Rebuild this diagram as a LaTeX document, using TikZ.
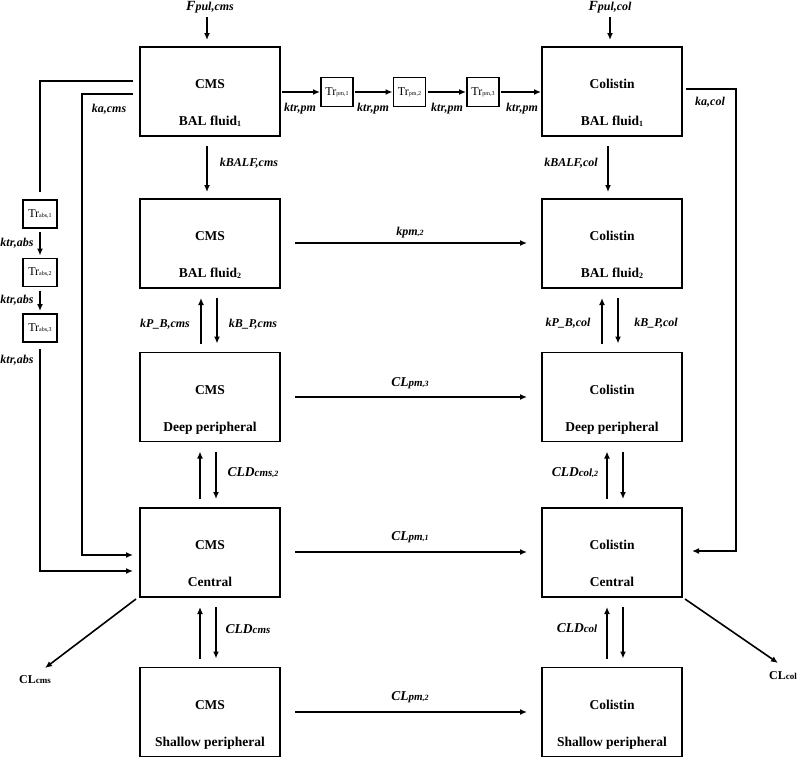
\documentclass[tikz,border=0pt]{standalone}
\usepackage{fontspec}
\setmainfont{Liberation Serif}
\usetikzlibrary{arrows.meta}
\newcommand{\fsz}[1]{\fontsize{#1}{#1}\selectfont}
\newcommand{\sm}[1]{{\fsz{8}#1}}
\newcommand{\bsub}[1]{\raisebox{-1pt}{\fsz{8}#1}}
\newcommand{\trsub}[1]{{\fsz{6}#1}}
\newcommand{\cbox}[5]{%
 \node[box] (#1) at (#2,#3) {};
 \node[boxtxt] (#1t) at ([yshift=3pt]#1.center) {#4};
 \node[boxtxt] (#1b) at ([yshift=-34pt]#1.center) {#5};}
\newcommand{\vpair}[4]{%
 \draw[arr, shorten <=9pt, shorten >=10pt] ([xshift=#3]#2.north) -- ([xshift=#3]#1.south);
 \draw[arr, shorten <=10pt, shorten >=9pt] ([xshift=#4]#1.south) -- ([xshift=#4]#2.north);}
\begin{document}
\begin{tikzpicture}[x=1pt,y=-1pt,
  box/.style={draw, line width=1.6pt, minimum width=140pt, minimum height=89pt, inner sep=0pt, outer sep=0pt},
  boxtxt/.style={anchor=base, inner sep=0pt, font=\bfseries\fsz{13.5}},
  trbox/.style={draw, line width=1.6pt, minimum width=32pt, minimum height=29pt, inner sep=0pt, outer sep=0pt, font=\fsz{12}},
  tabox/.style={trbox, minimum width=34pt, minimum height=28pt},
  arr/.style={line width=1.6pt, -{Latex[length=7pt,width=6pt]}},
  ln/.style={line width=1.6pt},
  lab/.style={inner sep=0pt, font=\bfseries\itshape\fsz{12}},
  cl/.style={inner sep=0pt, font=\bfseries\fsz{12}}]
\useasboundingbox (0,0) rectangle (800,758);

% compartments
\cbox{cms1}{210}{91.5}{CMS}{BAL fluid\bsub{1}}
\cbox{col1}{612}{91.5}{Colistin}{BAL fluid\bsub{1}}
\cbox{cms2}{210}{243.5}{CMS}{BAL fluid\bsub{2}}
\cbox{col2}{612}{243.5}{Colistin}{BAL fluid\bsub{2}}
\cbox{cms3}{210}{397}{CMS}{Deep peripheral}
\cbox{col3}{612}{397}{Colistin}{Deep peripheral}
\cbox{cms4}{210}{552.5}{CMS}{Central}
\cbox{col4}{612}{552.5}{Colistin}{Central}
\cbox{cms5}{210}{712}{CMS}{Shallow peripheral}
\cbox{col5}{612}{712}{Colistin}{Shallow peripheral}

% transit compartments
\node[trbox] (tp1) at (337,92) {Tr\trsub{pm,1}};
\node[trbox] (tp2) at (409.5,92) {Tr\trsub{pm,2}};
\node[trbox] (tp3) at (483,92) {Tr\trsub{pm,3}};
\node[tabox] (ta1) at (40,214) {Tr\trsub{abs,1}};
\node[tabox] (ta2) at (40,272.5) {Tr\trsub{abs,2}};
\node[tabox] (ta3) at (40,328) {Tr\trsub{abs,3}};

% inputs
\node[lab] (fcms) at (210,7) {{\fsz{14}F}pul,cms};
\node[lab] (fcol) at (610,7) {{\fsz{14}F}pul,col};
\draw[arr] ([xshift=-3pt,yshift=-10pt]fcms.center) -- ([xshift=-3pt,yshift=7pt]cms1.north);
\draw[arr] ([yshift=-10pt]fcol.center) -- ([xshift=-2pt,yshift=7pt]col1.north);

% pm transit chain
\draw[arr, shorten <=2pt, shorten >=1pt] (cms1.east |- tp1.west) -- (tp1.west);
\draw[arr, shorten <=2pt, shorten >=1pt] (tp1) -- (tp2);
\draw[arr, shorten <=2pt, shorten >=1pt] (tp2) -- (tp3);
\draw[arr, shorten <=2pt, shorten >=1pt] (tp3.east) -- (tp3.east -| col1.west);
\node[lab] (k1) at (300,109) {ktr,pm};
\node[lab] (k2) at (373,109) {ktr,pm};
\node[lab] (k3) at (447,109) {ktr,pm};
\node[lab] (k4) at (522,109) {ktr,pm};

% BALF1 -> BALF2
\draw[arr] ([xshift=-3pt,yshift=-10pt]cms1.south) -- ([xshift=-3pt,yshift=7pt]cms2.north);
\draw[arr] ([xshift=-4pt,yshift=-10pt]col1.south) -- ([xshift=-4pt,yshift=7pt]col2.north);
\node[lab] (kbc) at (249,163) {kBALF,cms};
\node[lab] (kbl) at (571,163) {kBALF,col};

% absorption (CMS)
\draw[ln] ([xshift=-7pt,yshift=10.5pt]cms1.west) -| ([yshift=8pt]ta1.north);
\draw[arr, shorten <=4pt, shorten >=3pt] (ta1) -- (ta2);
\draw[arr, shorten <=4pt, shorten >=3pt] (ta2) -- (ta3);
\draw[arr] ([yshift=-7pt]ta3.south) |- ([xshift=-7pt,yshift=-18.5pt]cms4.west);
\node[lab] (ka1) at (17,243) {ktr,abs};
\node[lab] (ka2) at (17,300) {ktr,abs};
\node[lab] (ka3) at (17,360) {ktr,abs};
\coordinate (kin) at (82,94);
\draw[arr] ([xshift=-7pt,yshift=-2.5pt]cms1.west) -- (kin) |- ([xshift=-7pt,yshift=-2.5pt]cms4.west);
\node[lab] (kacms) at (109,109) {ka,cms};

% absorption (colistin)
\coordinate (kcol) at (736,89);
\draw[arr] ([xshift=4pt,yshift=2.5pt]col1.east) -- (kcol) |- ([xshift=10pt,yshift=1.5pt]col4.east);
\node[lab] (kacol) at (710,102) {ka,col};

% CMS -> colistin conversion
\draw[arr, shorten <=15pt, shorten >=15pt] ([yshift=0.5pt]cms2.east) -- ([yshift=0.5pt]col2.west);
\draw[arr, shorten <=15pt, shorten >=15pt] (cms3) -- (col3);
\draw[arr, shorten <=15pt, shorten >=15pt] ([yshift=0.5pt]cms4.east) -- ([yshift=0.5pt]col4.west);
\draw[arr, shorten <=15pt, shorten >=15pt] (cms5) -- (col5);
\node[lab] (kpm2) at (410,233) {kpm\sm{,2}};
\node[lab] (clpm3) at (410,383) {{\fsz{13.5}CL}{\fsz{11}pm}\sm{,3}};
\node[lab] (clpm1) at (410,537) {{\fsz{13.5}CL}{\fsz{11}pm}\sm{,1}};
\node[lab] (clpm2) at (410,697) {{\fsz{13.5}CL}{\fsz{11}pm}\sm{,2}};

% distribution pairs
\vpair{cms2}{cms3}{-9pt}{7pt}
\vpair{cms3}{cms4}{-10pt}{6pt}
\vpair{cms4}{cms5}{-10pt}{6pt}
\vpair{col2}{col3}{-10pt}{6pt}
\vpair{col3}{col4}{-5pt}{11pt}
\vpair{col4}{col5}{-5pt}{11pt}
\node[lab] (kpbc) at (165,324) {kP\_B,cms};
\node[lab] (kbpc) at (253,324) {kB\_P,cms};
\node[lab] (kpbl) at (568,323) {kP\_B,col};
\node[lab] (kbpl) at (656,323) {kB\_P,col};
\node[lab] (cld2c) at (253,473) {{\fsz{13.5}CLD}{\fsz{11}cms}\sm{,2}};
\node[lab] (cldc) at (248,629) {{\fsz{13.5}CLD}{\fsz{11}cms}};
\node[lab] (cld2l) at (575,473) {{\fsz{13.5}CLD}{\fsz{11}col}\sm{,2}};
\node[lab] (cldl) at (577,628) {{\fsz{13.5}CLD}{\fsz{11}col}};

% elimination
\node[cl] (clcms) at (35,680) {CL{\fsz{9}cms}};
\node[cl] (clcol) at (783,676) {CL{\fsz{9}col}};
\draw[arr] ([xshift=-4pt,yshift=-2pt]cms4.south west) -- ([xshift=10pt,yshift=12pt]clcms.center);
\draw[arr] ([xshift=3pt,yshift=-2pt]col4.south east) -- ([xshift=-5pt,yshift=13pt]clcol.center);
\end{tikzpicture}
\end{document}
